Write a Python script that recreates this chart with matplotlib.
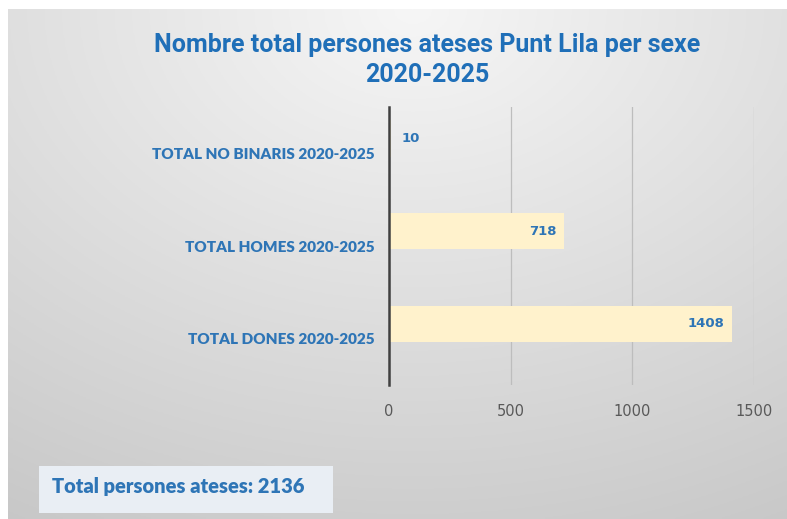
import numpy as np
import matplotlib.pyplot as plt
from matplotlib.patches import Rectangle

# data
categories = ["TOTAL DONES 2020-2025", "TOTAL HOMES 2020-2025", "TOTAL NO BINARIS 2020-2025"]
values = [1408, 718, 10]
x_ticks = [0, 500, 1000, 1500]
title = "Nombre total persones ateses Punt Lila per sexe\n2020-2025"
total_text = "Total persones ateses: 2136"

blue = "#2E75B6"
title_blue = "#1F6FB8"
bar_color = "#FFF2CC"

W, H = 787, 519
fig = plt.figure(figsize=(W / 100, H / 100), dpi=100)
fig.patch.set_facecolor("white")

# gray gradient background
bg = fig.add_axes([8 / W, 0, 1 - 8 / W, 1 - 9 / H], zorder=0)
yy, xx = np.mgrid[0:1:200j, 0:1:300j]
d = np.sqrt(((xx - 0.52) * 1.1) ** 2 + (yy * 1.0) ** 2)
g = 0.965 - 0.19 * np.clip(d, 0, 1.2) / 1.2
bg.imshow(np.dstack([g, g, g]), extent=[0, 1, 0, 1], aspect="auto", origin="upper")
bg.axis("off")

# main chart axes
left = 389 / W
right = 754 / W
ax = fig.add_axes([left, 1 - 385 / H, right - left, (385 - 107) / H], zorder=1)
ax.patch.set_alpha(0)

y = np.arange(len(categories))
bars = ax.barh(y + 0.16, values, height=0.39, color=bar_color, zorder=2)
ax.set_xlim(0, 1500)
ax.set_ylim(-0.5, 2.5)
ax.set_yticks(y)
ax.set_yticklabels(categories, fontweight="heavy", color=blue, fontsize=11,
                   family=["Lato", "DejaVu Sans"])
ax.tick_params(axis="y", length=0, pad=10)
ax.set_xticks(x_ticks)
ax.set_xticklabels([str(t) for t in x_ticks], color="#595959", fontsize=10.5)
ax.tick_params(axis="x", length=0, pad=14)
ax.grid(axis="x", color="#BDBDBD", linewidth=0.9, zorder=1)
ax.set_axisbelow(True)
for s in ["top", "right", "bottom"]:
    ax.spines[s].set_visible(False)
ax.spines["left"].set_color("#404040")
ax.spines["left"].set_linewidth(1.8)
ax.spines["left"].set_zorder(3)

# value labels
for yi, v in zip(y, values):
    if v > 100:
        ax.text(v - 28, yi + 0.16, str(v), ha="right", va="center", color=blue,
                fontweight="bold", fontsize=9.5, zorder=4)
    else:
        ax.text(v + 40, yi + 0.16, str(v), ha="left", va="center", color=blue,
                fontweight="bold", fontsize=9.5, zorder=4)

# title
fig.text(427 / W, 1 - 60 / H, title, ha="center", va="center", color=title_blue,
         fontsize=18, fontweight="bold", linespacing=1.3,
         family=["Roboto", "DejaVu Sans"])

# total box
box = fig.add_axes([0, 0, 1, 1], zorder=2)
box.axis("off")
box.set_xlim(0, W)
box.set_ylim(H, 0)
box.add_patch(Rectangle((39, 466), 294, 47, facecolor="#E9EEF4", edgecolor="none"))
box.text(52, 486, total_text, ha="left", va="center", color=blue, fontsize=14.5,
         fontweight="heavy", family=["Lato", "DejaVu Sans"])

fig.savefig("out.png", dpi=100)
